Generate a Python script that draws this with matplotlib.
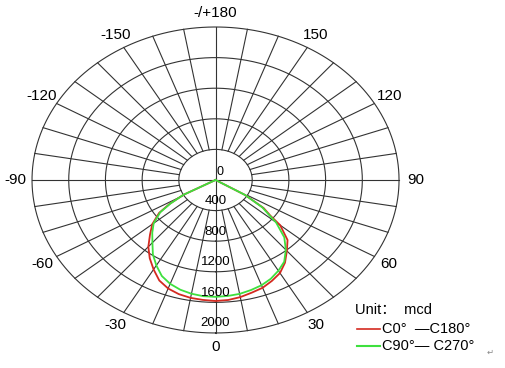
import numpy as np
import matplotlib
matplotlib.use("Agg")
import matplotlib.pyplot as plt

plt.rcParams['font.family'] = ['Liberation Sans', 'Noto Sans CJK SC', 'DejaVu Sans']

# --- data (angle in degrees, 0 = straight down, + = right) ---
red_theta = [-90, -61, -58, -55, -50, -45, -40, -35, -30, -25, -20, -15, -10, -5, 0,
             5, 10, 15, 20, 25, 30, 35, 40, 45, 50, 52, 55, 58.7, 90]
red_r = [0, 400, 590, 750, 900, 1010, 1139, 1250, 1350, 1450, 1510, 1545, 1565, 1574, 1582,
         1575, 1555, 1525, 1500, 1455, 1405, 1320, 1210, 1110, 920, 760, 640, 377, 0]

green_theta = [-90, -61, -58, -55, -50, -45, -40, -35, -30, -25, -20, -15, -10, -5, 0,
               5, 10, 15, 20, 25, 30, 35, 40, 45, 50, 52, 55, 58.7, 90]
green_r = [0, 400, 577, 735, 880, 975, 1070, 1190, 1290, 1385, 1445, 1485, 1510, 1525, 1528,
           1522, 1512, 1490, 1465, 1425, 1370, 1305, 1192, 1060, 860, 740, 620, 377, 0]

ring_values = [400, 800, 1200, 1600, 2000]
ring_labels = ['0', '400', '800', '1200', '1600', '2000']
angle_ticks = [0, 30, 60, 90, 120, 150, 180, -150, -120, -90, -60, -30]
angle_labels = ['0', '30', '60', '90', '120', '150', '-/+180', '-150', '-120', '-90', '-60', '-30']
r_max = 2000


def pol(r, th_deg):
    th = np.radians(th_deg)
    return np.asarray(r) * np.sin(th), -np.asarray(r) * np.cos(th)


fig = plt.figure(figsize=(5.05, 3.68), dpi=100)
ax = fig.add_axes([0, 0, 1, 1])
ax.set_xlim(-2349, 3155)
ax.set_ylim(-2458, 2353)
ax.axis('off')

grid_kw = dict(color='#333333', lw=0.8, zorder=1)
t = np.linspace(0, 360, 400)
for rv in ring_values:
    x, y = pol(rv, t)
    ax.plot(x, y, **grid_kw)

# spokes every 10 deg, main axes go through the centre
for a in range(0, 360, 10):
    r0 = 0 if a % 90 == 0 else ring_values[0]
    x, y = pol([r0, r_max], a)
    ax.plot(x, y, **grid_kw)

# curves
x, y = pol(red_r, np.array(red_theta))
ax.plot(x, y, color='#d42a20', lw=1.3, zorder=3)
x, y = pol(green_r, np.array(green_theta))
ax.plot(x, y, color='#3ee03e', lw=1.3, zorder=4)

# radial labels
ax.text(45, 100, ring_labels[0], ha='center', va='center', fontsize=9, zorder=5)
for rv, lab in zip(ring_values, ring_labels[1:]):
    ax.text(0, -(rv - 125), lab, ha='center', va='center', fontsize=9.5, zorder=5)

# angle labels
for a, lab in zip(angle_ticks, angle_labels):
    x, y = pol(2185, a)
    ax.text(x, y, lab, ha='center', va='center', fontsize=11)

# legend block
ax.text(1520, -1700, 'Unit：  mcd', ha='left', va='center', fontsize=10.5)
ax.plot([1540, 1795], [-1945, -1945], color='#d42a20', lw=1.2)
ax.text(1810, -1945, 'C0°  —C180°', ha='left', va='center', fontsize=10.5)
ax.plot([1540, 1795], [-2170, -2170], color='#3ee03e', lw=1.5)
ax.text(1810, -2170, 'C90°— C270°', ha='left', va='center', fontsize=10.5)
ax.text(2950, -2250, '↵', ha='left', va='center', fontsize=6, color='#888888',
        family=['DejaVu Sans'])

fig.savefig('out.png', dpi=100)
